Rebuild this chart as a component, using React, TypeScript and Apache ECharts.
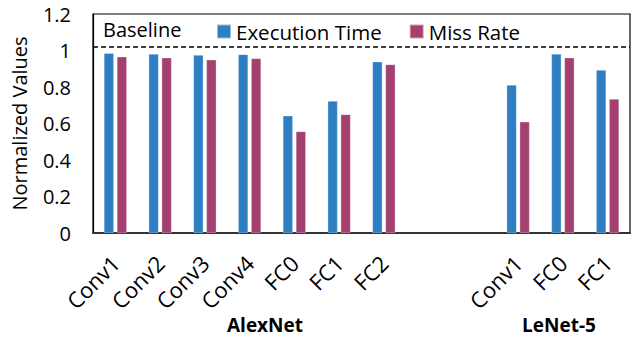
import React, { useEffect, useRef } from "react";
import * as echarts from "echarts";

const categories = ["Conv1", "Conv2", "Conv3", "Conv4", "FC0", "FC1", "FC2", "", "", "Conv1", "FC0", "FC1"];
const executionTime = [0.985, 0.981, 0.975, 0.979, 0.643, 0.723, 0.939, null, null, 0.811, 0.981, 0.893];
const missRate = [0.966, 0.961, 0.95, 0.957, 0.557, 0.65, 0.924, null, null, 0.61, 0.961, 0.734];
const baselineValue = 1.02;
const groupLabels = ["AlexNet", "LeNet-5"];
const yTicks = { min: 0, max: 1.2, interval: 0.2 };

const FONT = "Open Sans";

export default function App() {
  const ref = useRef<HTMLDivElement>(null);
  useEffect(() => {
    if (!ref.current) return;
    const chart = echarts.init(ref.current, undefined, { renderer: "svg" });
    chart.setOption({
      animation: false,
      textStyle: { fontFamily: FONT },
      grid: {
        left: 93,
        right: 2,
        top: 14,
        bottom: 104,
        show: true,
        borderColor: "#000",
        borderWidth: 1.2,
        containLabel: false,
      },
      legend: {
        data: ["Execution Time", "Miss Rate"],
        left: 211,
        top: 16,
        itemWidth: 14,
        itemHeight: 14,
        itemGap: 27,
        icon: "rect",
        textStyle: { fontFamily: FONT, fontSize: 20.5, color: "#000" },
      },
      xAxis: {
        type: "category",
        data: categories,
        axisLine: { lineStyle: { color: "#333", width: 2 } },
        axisTick: { show: false },
        axisLabel: {
          interval: 0,
          rotate: 45,
          margin: 26,
          fontSize: 22,
          color: "#000",
          fontFamily: FONT,
        },
      },
      yAxis: {
        type: "value",
        min: yTicks.min,
        max: yTicks.max,
        interval: yTicks.interval,
        splitLine: { show: false },
        axisLine: { show: true, lineStyle: { color: "#000", width: 1.2 } },
        axisTick: { show: false },
        axisLabel: { fontSize: 20, color: "#000", margin: 22, fontFamily: FONT },
        name: "Normalized Values",
        nameLocation: "middle",
        nameGap: 64,
        nameTextStyle: { fontSize: 20, color: "#000", fontFamily: FONT },
      },
      series: [
        {
          name: "Execution Time",
          type: "bar",
          data: executionTime,
          barWidth: 10,
          barGap: "30%",
          itemStyle: { color: "#2E7EC4", borderColor: "rgba(255,255,255,0.5)", borderWidth: 0.6 },
          markLine: {
            symbol: "none",
            silent: true,
            lineStyle: { color: "#000", type: [5, 3], width: 1.5 },
            label: {
              show: true,
              position: "insideStartTop",
              formatter: "Baseline",
              fontSize: 20,
              color: "#000",
              fontFamily: FONT,
              distance: [10, 7],
            },
            data: [{ yAxis: baselineValue }],
          },
        },
        {
          name: "Miss Rate",
          type: "bar",
          data: missRate,
          barWidth: 10,
          itemStyle: { color: "#A34070", borderColor: "rgba(255,255,255,0.5)", borderWidth: 0.6 },
        },
      ],
      graphic: [
        {
          type: "text",
          x: 265,
          y: 325,
          style: {
            text: groupLabels[0],
            fontSize: 19,
            fontWeight: "bold",
            fill: "#000",
            fontFamily: FONT,
            align: "center",
            verticalAlign: "middle",
          },
        },
        {
          type: "text",
          x: 559,
          y: 325,
          style: {
            text: groupLabels[1],
            fontSize: 19,
            fontWeight: "bold",
            fill: "#000",
            fontFamily: FONT,
            align: "center",
            verticalAlign: "middle",
          },
        },
      ],
    });
    return () => chart.dispose();
  }, []);
  return (
    <div
      ref={ref}
      style={{ position: "fixed", left: 0, top: 0, width: 632, height: 337, background: "#fff" }}
    />
  );
}
